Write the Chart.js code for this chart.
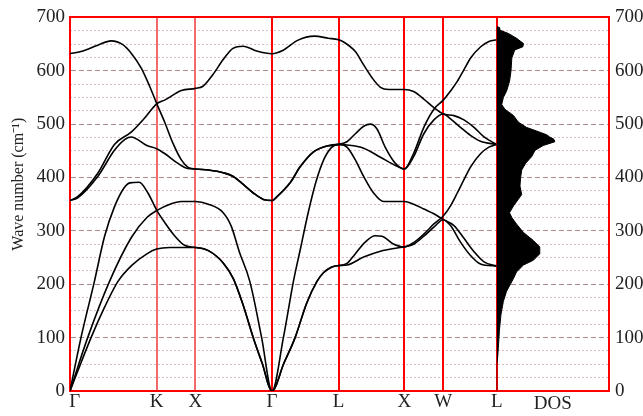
<!DOCTYPE html>
<html>
<head>
<meta charset="utf-8">
<script src="https://cdn.jsdelivr.net/npm/chart.js@4"></script>
<style>
html,body{margin:0;padding:0;background:#fff;}
#wrap{width:643px;height:416px;}
</style>
</head>
<body>
<div id="wrap"><canvas id="c" width="643" height="416"></canvas></div>
<script>
// High-symmetry path (k-distance units) and labels
const symLabels = ['Γ','K','X','Γ','L','X','W','L'];
const symPos = [0, 1.127, 1.632, 2.628, 3.494, 4.35, 4.856, 5.551];

// Phonon branches: [k, wave number cm^-1]
const band1 = [[0,0],[0.274,100],[0.45,157],[0.622,205],[0.8,235],[1.0,257],[1.127,266],[1.3,269],[1.632,269],
  [1.8,263],[1.993,240],[2.123,211],[2.25,162],[2.384,100],[2.5,52],[2.628,0],
  [2.78,51],[2.928,100],[3.08,165],[3.211,205],[3.3,222],[3.4,232],[3.494,235],
  [3.603,236],[3.82,251],[4.038,262],[4.255,268],[4.35,270],
  [4.47,275],[4.603,290],[4.734,307],[4.856,321],
  [4.95,310],[5.08,279],[5.21,254],[5.34,238],[5.551,234]];
const band2 = [[0,0],[0.23,100],[0.513,205],[0.8,288],[1.0,325],[1.127,338],[1.3,350],[1.45,355],[1.632,355],
  [1.8,350],[1.993,334],[2.1,308],[2.2,262],[2.34,205],[2.493,100],[2.628,0],
  [2.776,100],[2.906,205],[3.0,268],[3.1,335],[3.2,392],[3.3,433],[3.4,456],[3.494,462],
  [3.603,457],[3.712,433],[3.82,402],[3.95,371],[4.08,355],[4.2,355],[4.35,355],
  [4.47,350],[4.603,341],[4.734,332],[4.856,321],
  [4.995,310],[5.125,286],[5.256,261],[5.386,242],[5.551,234]];
const band3 = [[0,0],[0.143,100],[0.317,205],[0.45,290],[0.578,345],[0.7,380],[0.78,390],[0.9,391],[1.014,371],[1.127,339],[1.231,316],[1.36,291],[1.49,273],[1.632,269],
  [1.8,263],[1.993,240],[2.123,211],[2.25,162],[2.384,100],[2.5,52],[2.628,0],
  [2.78,51],[2.928,100],[3.08,165],[3.211,205],[3.3,222],[3.4,232],[3.494,235],
  [3.603,239],[3.7,255],[3.84,279],[3.97,291],[4.06,290],[4.2,276],[4.35,270],
  [4.47,278],[4.603,294],[4.734,313],[4.856,328],
  [4.95,347],[5.038,371],[5.125,396],[5.212,420],[5.343,445],[5.45,457],[5.551,462]];
const band4 = [[0,357],[0.1,362],[0.361,402],[0.578,451],[0.72,472],[0.796,476],[1.0,460],[1.127,454],[1.231,445],[1.4,427],[1.53,417],[1.632,416],
  [1.8,414],[1.993,409],[2.124,402],[2.254,387],[2.385,371],[2.515,359],[2.628,357],
  [2.7,365],[2.863,390],[2.994,420],[3.168,448],[3.342,459],[3.494,462],
  [3.603,461],[3.82,455],[4.038,438],[4.255,421],[4.35,416],
  [4.47,439],[4.603,482],[4.734,508],[4.856,519],
  [4.95,510],[5.08,494],[5.21,479],[5.34,468],[5.551,462]];
const band5 = [[0,357],[0.1,364],[0.361,408],[0.578,462],[0.796,485],[0.98,513],[1.127,538],[1.231,545],[1.449,563],[1.632,567],
  [1.73,571],[1.86,593],[1.993,621],[2.12,642],[2.254,646],[2.428,637],[2.628,632],
  [2.78,639],[2.96,657],[3.18,665],[3.36,661],[3.494,658],
  [3.56,654],[3.712,636],[3.82,611],[3.929,587],[4.038,569],[4.146,565],[4.35,565],
  [4.47,561],[4.603,547],[4.734,531],[4.856,519],
  [4.995,516],[5.125,508],[5.256,494],[5.386,476],[5.551,462]];
const band6 = [[0,632],[0.143,636],[0.361,648],[0.535,656],[0.687,649],[0.796,633],[0.927,605],[1.036,571],[1.127,539],[1.231,504],[1.34,464],[1.449,433],[1.536,419],[1.632,416],
  [1.8,414],[1.993,409],[2.124,402],[2.254,387],[2.385,371],[2.515,359],[2.628,357],
  [2.7,365],[2.863,390],[2.994,420],[3.168,448],[3.342,459],[3.494,462],
  [3.603,467],[3.712,482],[3.82,496],[3.907,500],[3.994,491],[4.1,457],[4.23,427],[4.35,416],
  [4.47,445],[4.603,494],[4.734,528],[4.856,545],
  [4.95,562],[5.038,580],[5.125,602],[5.212,624],[5.343,645],[5.45,655],[5.551,658]];
const bands = [band1, band2, band3, band4, band5, band6];

// Density of states (arbitrary units, peak = 1)
const dosFreq  = [0,50,57,82,113,144,168,187,193,205,211,223,236,245,257,270,282,297,313,325,334,347,359,368,384,399,414,427,439,451,460,467,472,476,480,485,494,504,516,528,537,550,562,580,599,624,639,645,651,661,670,676,681,683];
const dosValue = [0,0,0.012,0.029,0.046,0.074,0.115,0.17,0.20,0.26,0.29,0.34,0.46,0.63,0.74,0.74,0.63,0.46,0.34,0.26,0.22,0.29,0.37,0.43,0.40,0.41,0.43,0.50,0.60,0.66,0.80,1.0,0.98,0.91,0.86,0.74,0.51,0.37,0.29,0.14,0.086,0.115,0.17,0.22,0.245,0.26,0.31,0.45,0.46,0.34,0.20,0.057,0.05,0];

const yMajorTicks = [0,100,200,300,400,500,600,700];

const serif = '"Liberation Serif", "Times New Roman", serif';
const RED = '#ff0000';
const PALE_RED = '#f46a6a';

const frameTop = {
  id: 'frameTop',
  afterDraw(chart) {
    const {ctx, chartArea: a} = chart;
    ctx.save();
    ctx.strokeStyle = RED;
    ctx.lineWidth = 2;
    ctx.beginPath();
    ctx.moveTo(a.left - 1, Math.round(a.top));
    ctx.lineTo(a.right + 1, Math.round(a.top));
    ctx.stroke();
    ctx.restore();
  }
};

const datasets = bands.map(b => ({
  data: b.map(p => ({x: p[0], y: p[1]})),
  xAxisID: 'x', yAxisID: 'y',
  borderColor: '#000', borderWidth: 1.6,
  pointRadius: 0, fill: false,
  cubicInterpolationMode: 'monotone'
}));
datasets.push({
  data: dosFreq.map((f, i) => ({x: dosValue[i], y: f})),
  xAxisID: 'x2', yAxisID: 'y',
  indexAxis: 'y',
  borderColor: '#000', backgroundColor: '#000', borderWidth: 1,
  pointRadius: 0, fill: 'origin', tension: 0
});

new Chart(document.getElementById('c'), {
  type: 'line',
  data: { datasets },
  plugins: [frameTop],
  options: {
    responsive: false,
    animation: false,
    layout: { padding: { top: 12, left: 0, right: 0, bottom: 0 } },
    plugins: { legend: { display: false }, tooltip: { enabled: false } },
    scales: {
      x: {
        type: 'linear', position: 'bottom', stack: 'bot', stackWeight: 426.7,
        min: symPos[0], max: symPos[symPos.length - 1],
        afterBuildTicks: a => { a.ticks = symPos.map(v => ({ value: v })); },
        ticks: {
          autoSkip: false, maxRotation: 0, padding: 0, color: '#222',
          font: { family: serif, size: 19 },
          callback: (v, i) => (i === 0 ? '  ' : '') + symLabels[i]
        },
        grid: {
          color: c => (c.index === 1 || c.index === 2) ? PALE_RED : RED,
          lineWidth: 2, drawTicks: false, z: 0, borderDash: []
        },
        border: { color: RED, width: 2, dash: [] },
        afterFit: a => { a.height = 25; }
      },
      x2: {
        type: 'linear', position: 'bottom', stack: 'bot', stackWeight: 112.3,
        min: 0, max: 1.93,
        ticks: { display: false },
        grid: { display: false, drawTicks: false },
        border: { color: RED, width: 2 },
        title: { display: true, text: 'DOS', color: '#222', font: { family: serif, size: 19 }, padding: { top: 0, bottom: 1 } },
        afterFit: a => { a.height = 25; }
      },
      yMinor: {
        type: 'linear', position: 'left', min: 0, max: 700,
        ticks: { display: false, stepSize: 25 },
        grid: {
          color: c => (c.tick && c.tick.value % 100 === 0) ? 'rgba(0,0,0,0)' : '#dcbcbc',
          lineWidth: 1, drawTicks: false, borderDash: [2, 2]
        },
        border: { display: false, dash: [2, 2] },
        afterFit: a => { a.width = 0; }
      },
      y: {
        type: 'linear', position: 'left', min: 0, max: 700,
        afterBuildTicks: a => { a.ticks = yMajorTicks.map(v => ({ value: v })); },
        ticks: { padding: 5, color: '#222', font: { family: serif, size: 19 } },
        grid: {
          color: c => (c.tick && (c.tick.value === 0 || c.tick.value === 700)) ? 'rgba(0,0,0,0)' : '#b08888',
          lineWidth: 1, drawTicks: false, borderDash: [5, 3]
        },
        border: { color: RED, width: 2, dash: [5, 3] },
        title: {
          display: true, text: '          Wave number (cm\u207B\u00B9)', color: '#222',
          font: { family: serif, size: 16 }, padding: { top: 9, bottom: 0 }
        },
        afterFit: a => { a.width = 70; }
      },
      y2: {
        type: 'linear', position: 'right', min: 0, max: 700,
        afterBuildTicks: a => { a.ticks = yMajorTicks.map(v => ({ value: v })); },
        ticks: { padding: 6, color: '#222', font: { family: serif, size: 19 } },
        grid: { display: false, drawTicks: false },
        border: { color: RED, width: 2 },
        afterFit: a => { a.width = 34; }
      }
    }
  }
});
</script>
</body>
</html>
